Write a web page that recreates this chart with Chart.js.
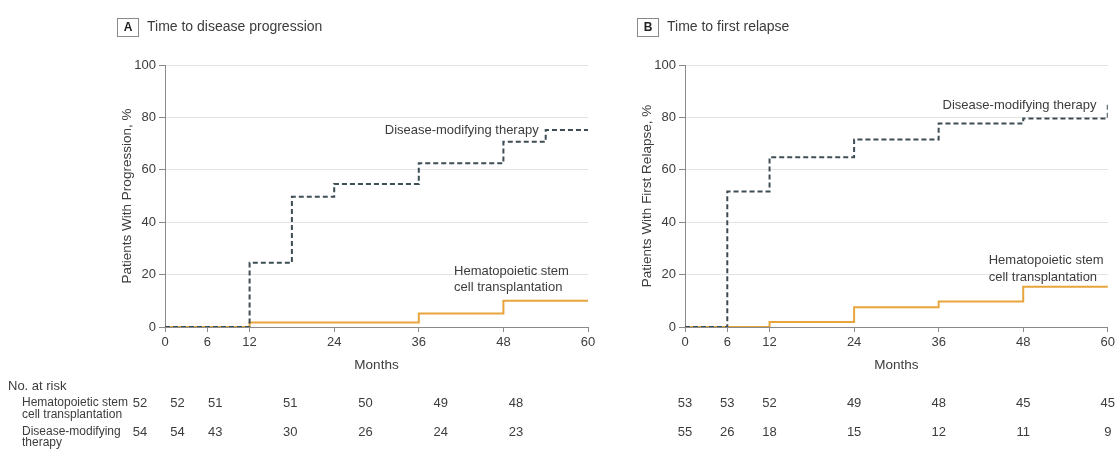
<!DOCTYPE html>
<html>
<head>
<meta charset="utf-8">
<script src="https://cdn.jsdelivr.net/npm/chart.js@4.4.1/dist/chart.umd.min.js"></script>
<style>
  body { margin: 0; background: #fff; width: 1118px; height: 466px; overflow: hidden; position: relative; }
  canvas { position: absolute; top: 0; }
  #chartA { left: 0; }
  #chartB { left: 600px; }
</style>
</head>
<body>
<canvas id="chartA" width="600" height="466"></canvas>
<canvas id="chartB" width="518" height="466"></canvas>
<script>
// month ticks and months of the at-risk table
const xTicks = [0, 6, 12, 24, 36, 48, 60];
const riskMonths = [0, 6, 12, 24, 36, 48, 60];

// A - time to disease progression (cumulative %)
const dmtMonthsA = [0, 12, 18, 24, 36, 48, 54, 60];
const dmtPctA = [0, 24.5, 49.7, 54.6, 62.5, 70.7, 75.2, 75.2];
const hsctMonthsA = [0, 12, 36, 48, 60];
const hsctPctA = [0, 1.7, 5.2, 10, 10];
const riskHsctA = [52, 52, 51, 51, 50, 49, 48];
const riskDmtA = [54, 54, 43, 30, 26, 24, 23];

// B - time to first relapse
const dmtMonthsB = [0, 6, 12, 24, 36, 48, 60];
const dmtPctB = [0, 51.7, 64.8, 71.6, 77.7, 79.6, 86];
const hsctMonthsB = [0, 12, 24, 36, 48, 60];
const hsctPctB = [0, 1.9, 7.5, 9.7, 15.4, 15.8];
const riskHsctB = [53, 53, 52, 49, 48, 45, 45];
const riskDmtB = [55, 26, 18, 15, 12, 11, 9];

const FONT = "'Liberation Sans', Arial, sans-serif";
const TEXT = '#3c3c3c';
const AXIS = '#8a8a8a';
const DMT = '#3d4d55';
const HSCT = '#e8a53c';

Chart.defaults.font.family = FONT;
Chart.defaults.font.size = 13;
Chart.defaults.color = TEXT;

const pts = (xs, ys) => xs.map((x, i) => ({ x: x, y: ys[i] }));

const panelText = p => ({
  id: 'panelText',
  afterDraw(chart) {
    const ctx = chart.ctx;
    const x = chart.scales.x, y = chart.scales.y, r = chart.scales.risk;
    ctx.save();
    // boxed panel letter + title
    ctx.strokeStyle = AXIS;
    ctx.lineWidth = 1;
    ctx.strokeRect(p.boxX + 0.5, 18.5, 21, 18);
    ctx.fillStyle = '#222';
    ctx.font = 'bold 12px ' + FONT;
    ctx.textAlign = 'center';
    ctx.textBaseline = 'middle';
    ctx.fillText(p.letter, p.boxX + 11, 28);
    ctx.fillStyle = TEXT;
    ctx.font = '14px ' + FONT;
    ctx.textAlign = 'left';
    ctx.fillText(p.title, p.boxX + 30, 27);

    // curve labels
    ctx.font = '13px ' + FONT;
    ctx.textAlign = 'right';
    ctx.fillText('Disease-modifying therapy', x.getPixelForValue(p.dmtLab[0]), y.getPixelForValue(p.dmtLab[1]));
    ctx.textAlign = 'left';
    ctx.fillText('Hematopoietic stem', x.getPixelForValue(p.hsctLab[0]), y.getPixelForValue(p.hsctLab[1]));
    ctx.fillText('cell transplantation', x.getPixelForValue(p.hsctLab[0]), y.getPixelForValue(p.hsctLab[2]));

    // number at risk
    if (p.rowLabels) {
      ctx.fillText('No. at risk', 8, 386);
      ctx.font = '12px ' + FONT;
      ctx.fillText('Hematopoietic stem', 22, 403);
      ctx.fillText('cell transplantation', 22, 415);
      ctx.fillText('Disease-modifying', 22, 432);
      ctx.fillText('therapy', 22, 443);
    }
    ctx.font = '13px ' + FONT;
    ctx.textAlign = 'center';
    riskMonths.forEach((m, i) => {
      const px = r.getPixelForValue(m);
      ctx.fillText(String(p.riskHsct[i]), px, 403);
      ctx.fillText(String(p.riskDmt[i]), px, 432);
    });
    ctx.restore();
  }
});

function makeChart(id, p) {
  return new Chart(document.getElementById(id), {
    type: 'line',
    data: {
      datasets: [{
        label: 'Disease-modifying therapy',
        data: pts(p.dmtX, p.dmtY),
        xAxisID: 'x',
        borderColor: DMT,
        borderWidth: 2,
        borderDash: [5, 3],
        stepped: 'before',
        pointRadius: 0
      }, {
        label: 'Hematopoietic stem cell transplantation',
        data: pts(p.hsctX, p.hsctY),
        xAxisID: 'x',
        borderColor: HSCT,
        borderWidth: 2,
        stepped: 'before',
        pointRadius: 0
      }]
    },
    options: {
      responsive: false,
      animation: false,
      layout: { padding: { left: p.padLeft, right: p.padRight, top: 65, bottom: 93 } },
      plugins: { legend: { display: false }, tooltip: { enabled: false } },
      scales: {
        x: {
          type: 'linear', min: 0, max: 60,
          afterBuildTicks: a => { a.ticks = xTicks.map(v => ({ value: v })); },
          afterFit: a => { a.height = 46; },
          grid: { drawOnChartArea: false, tickLength: 5, tickColor: AXIS },
          border: { color: AXIS },
          ticks: { padding: 3, maxRotation: 0, autoSkip: false },
          title: { display: true, text: 'Months', font: { size: 13.5 }, padding: 0 }
        },
        y: {
          min: 0, max: 100,
          afterFit: a => { a.width = 46; },
          grid: { color: '#e3e3e3', tickLength: 6, tickColor: AXIS },
          border: { color: AXIS },
          ticks: { stepSize: 20, padding: 3 },
          title: { display: true, text: p.yTitle, font: { size: 13.5 }, padding: 0 }
        },
        risk: { type: 'linear', axis: 'x', position: 'bottom', display: false, min: p.riskMin, max: p.riskMax }
      }
    },
    plugins: [panelText(p)]
  });
}

makeChart('chartA', {
  letter: 'A', title: 'Time to disease progression', yTitle: 'Patients With Progression, %',
  boxX: 117, padLeft: 119, padRight: 12,
  dmtX: dmtMonthsA, dmtY: dmtPctA, hsctX: hsctMonthsA, hsctY: hsctPctA,
  dmtLab: [53, 75.2], hsctLab: [41, 21.1, 15.2],
  riskHsct: riskHsctA, riskDmt: riskDmtA, riskMin: 4.0, riskMax: 71.5, rowLabels: true
});

makeChart('chartB', {
  letter: 'B', title: 'Time to first relapse', yTitle: 'Patients With First Relapse, %',
  boxX: 37, padLeft: 39, padRight: 10,
  dmtX: dmtMonthsB, dmtY: dmtPctB, hsctX: hsctMonthsB, hsctY: hsctPctB,
  dmtLab: [58.4, 84.4], hsctLab: [43.1, 25.3, 19.0],
  riskHsct: riskHsctB, riskDmt: riskDmtB, riskMin: 0, riskMax: 60, rowLabels: false
});
</script>
</body>
</html>
